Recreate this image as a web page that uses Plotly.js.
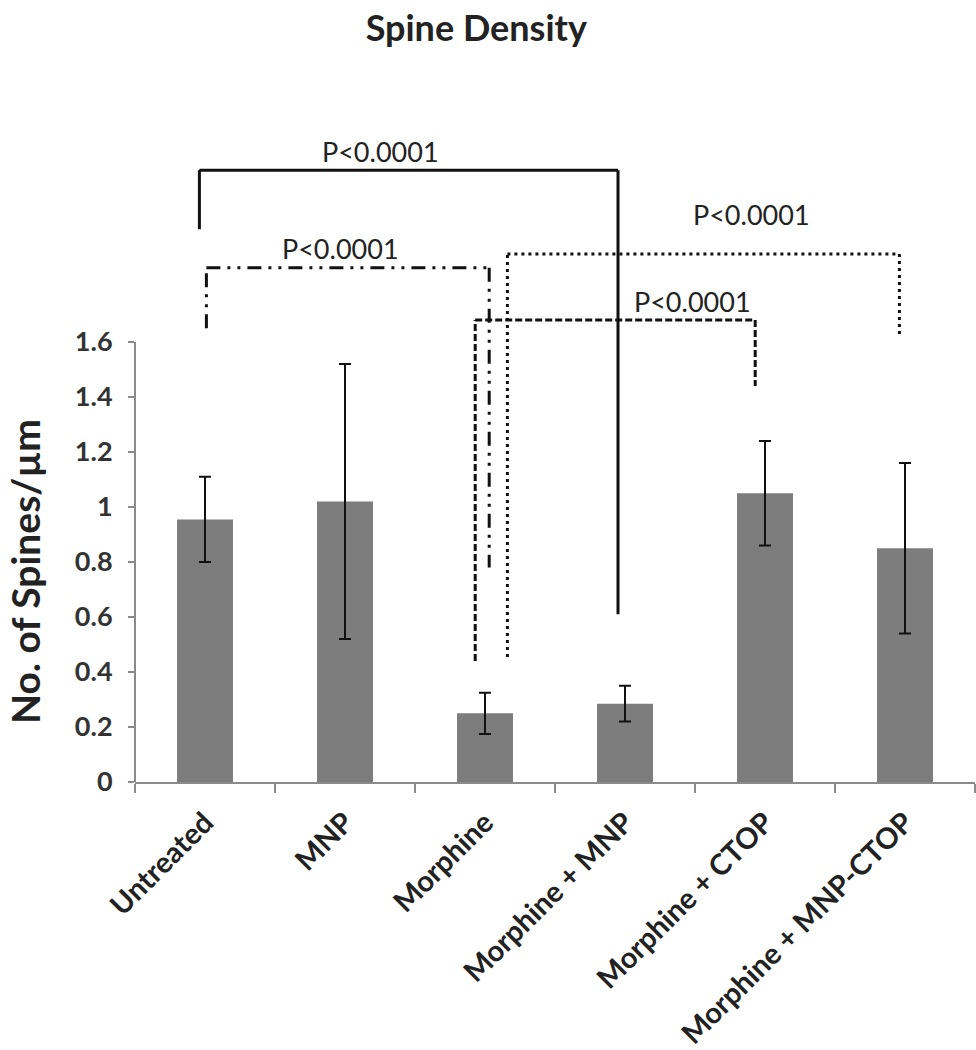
<!DOCTYPE html>
<html>
<head>
<meta charset="utf-8">
<script src="https://cdn.plot.ly/plotly-3.0.1.min.js"></script>
<style>
  html, body { margin: 0; padding: 0; background: #fff; }
  #spine-density-plot { width: 976px; height: 1050px; }
</style>
</head>
<body>
<div id="spine-density-plot"></div>
<script>
// Spine density per treatment group

const groups = ['Untreated', 'MNP', 'Morphine', 'Morphine + MNP', 'Morphine + CTOP', 'Morphine + MNP-CTOP'];
const spineDensity = [0.955, 1.02, 0.25, 0.285, 1.05, 0.85];
const spineError = [0.155, 0.50, 0.075, 0.065, 0.19, 0.31];

// Significance brackets: left/right x (category position), leg bottoms, top level, label
const bracketLeftX = [-0.04, 0.01, 1.93, 2.16];
const bracketRightX = [2.95, 2.03, 3.93, 4.96];
const bracketLeftLow = [2.01, 1.65, 0.44, 0.455];
const bracketRightLow = [0.61, 0.78, 1.44, 1.625];
const bracketTop = [2.225, 1.87, 1.68, 1.92];
const bracketLabelX = [1.25, 0.97, 3.48, 3.9];
const bracketLabels = ['P<0.0001', 'P<0.0001', 'P<0.0001', 'P<0.0001'];
const bracketDash = ['solid', '14px,7px,3px,7px,3px,7px', '7px,3px', '3px,4px'];

const yTicks = [0, 0.2, 0.4, 0.6, 0.8, 1, 1.2, 1.4, 1.6];
const yTickText = ['0', '0.2', '0.4', '0.6', '0.8', '1', '1.2', '1.4', '1.6'];

const FONT = 'Lato, "Open Sans", sans-serif';

function drawSpineDensityPlot() {
    const trace = {
        x: groups,
        y: spineDensity,
        type: 'bar',
        marker: { color: '#7d7d7d' },
        error_y: {
            type: 'data',
            array: spineError,
            visible: true,
            color: '#111',
            thickness: 2,
            width: 6
        },
        hoverinfo: 'skip'
    };

    const shapes = [];
    const annotations = [];
    for (let i = 0; i < bracketTop.length; i++) {
        const line = { color: '#111', width: 3, dash: bracketDash[i] };
        shapes.push({ type: 'line', xref: 'x', yref: 'y', x0: bracketLeftX[i], x1: bracketLeftX[i], y0: bracketLeftLow[i], y1: bracketTop[i], line: line });
        shapes.push({ type: 'line', xref: 'x', yref: 'y', x0: bracketLeftX[i], x1: bracketRightX[i], y0: bracketTop[i], y1: bracketTop[i], line: line });
        shapes.push({ type: 'line', xref: 'x', yref: 'y', x0: bracketRightX[i], x1: bracketRightX[i], y0: bracketTop[i], y1: bracketRightLow[i], line: line });
        annotations.push({
            x: bracketLabelX[i],
            y: bracketTop[i],
            xref: 'x',
            yref: 'y',
            text: bracketLabels[i],
            showarrow: false,
            yanchor: 'middle',
            yshift: i == 3 ? 40 : 19,
            font: { family: FONT, size: 27, color: '#222' }
        });
    }

    // y axis title, centred on the ticked part of the axis
    annotations.push({
        x: 0,
        y: yTicks[yTicks.length - 1] / 2,
        xref: 'paper',
        yref: 'y',
        xanchor: 'center',
        yanchor: 'middle',
        xshift: -110,
        yshift: -10,
        text: '<b>No. of Spines/µm</b>',
        textangle: -90,
        showarrow: false,
        font: { family: FONT, size: 39, color: '#222' }
    });

    // y axis line only up to the top tick
    shapes.push({
        type: 'line', xref: 'paper', yref: 'y',
        x0: 0, x1: 0, y0: 0, y1: yTicks[yTicks.length - 1],
        line: { color: '#8a8a8a', width: 2 }
    });

    const layout = {
        width: 976,
        height: 1050,
        margin: { l: 135, r: 1, t: 122, b: 268 },
        paper_bgcolor: '#fff',
        plot_bgcolor: '#fff',
        showlegend: false,
        bargap: 0.6,
        title: {
            text: '<b>Spine Density</b>',
            x: 0.488,
            xanchor: 'center',
            y: 0.985,
            yanchor: 'top',
            font: { family: FONT, size: 36, color: '#222' }
        },
        xaxis: {
            type: 'category',
            tickson: 'boundaries',
            ticks: 'outside',
            ticklen: 9,
            tickwidth: 2,
            tickcolor: '#8a8a8a',
            tickangle: -45,
            ticklabelstandoff: 10,
            showline: true,
            linecolor: '#8a8a8a',
            linewidth: 2,
            showgrid: false,
            zeroline: false,
            tickfont: { family: FONT, size: 29, color: '#222', weight: 'bold' }
        },
        yaxis: {
            range: [0, 2.4],
            tickmode: 'array',
            tickvals: yTicks,
            ticktext: yTickText,
            ticks: 'outside',
            ticklen: 6,
            tickwidth: 2,
            tickcolor: '#8a8a8a',
            ticklabelstandoff: 10,
            showline: false,
            showgrid: false,
            zeroline: false,
            tickfont: { family: FONT, size: 27, color: '#333', weight: 'bold' }
        },
        shapes: shapes,
        annotations: annotations
    };

    const config = { responsive: false, displayModeBar: false, staticPlot: true };

    Plotly.newPlot('spine-density-plot', [trace], layout, config);
}

drawSpineDensityPlot();
</script>
</body>
</html>
